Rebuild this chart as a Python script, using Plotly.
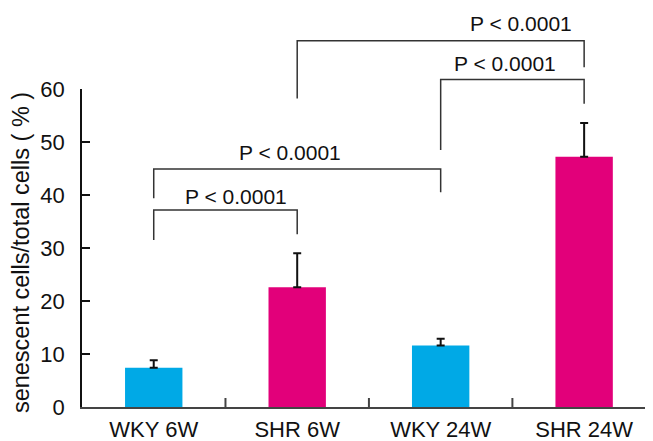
import plotly.graph_objects as go

categories = ["WKY 6W", "SHR 6W", "WKY 24W", "SHR 24W"]
values = [7.4, 22.6, 11.6, 47.2]
errors = [1.4, 6.4, 1.3, 6.4]
bar_colors = ["#00A9E6", "#E2007A", "#00A9E6", "#E2007A"]
y_ticks = [0, 10, 20, 30, 40, 50, 60]

# significance brackets
bracket_left = [0, 0, 1, 2]
bracket_right = [1, 2, 3, 3]
bracket_top = [37.15, 44.9, 69.1, 61.8]
bracket_left_end = [31.5, 39.4, 58.2, 48.5]
bracket_right_end = [32.6, 40.5, 64.1, 57.2]
bracket_labels = ["P < 0.0001", "P < 0.0001", "P < 0.0001", "P < 0.0001"]
label_x = [0.57, 0.95, 2.56, 2.45]
label_y = [39.7, 48.1, 72.3, 64.9]

Y_MAX = 60.0
FONT = "Liberation Sans, Arial, sans-serif"

fig = go.Figure()
fig.add_trace(go.Bar(
    x=list(range(len(categories))), y=values,
    marker=dict(color=bar_colors, line=dict(width=0)),
    width=0.4,
    error_y=dict(type="data", symmetric=False, array=errors,
                 arrayminus=[0] * len(errors),
                 color="#111111", thickness=2, width=4),
))

def py(v):
    return v / Y_MAX

shapes = []
annotations = []
for i in range(len(bracket_left)):
    l, r = bracket_left[i], bracket_right[i]
    pts = (f"M {l} {py(bracket_left_end[i])} L {l} {py(bracket_top[i])} "
           f"L {r} {py(bracket_top[i])} L {r} {py(bracket_right_end[i])}")
    shapes.append(dict(type="path", xref="x", yref="paper", path=pts,
                       line=dict(color="#333333", width=1.5)))
    annotations.append(dict(x=label_x[i], y=py(label_y[i]), xref="x", yref="paper",
                            text=bracket_labels[i], showarrow=False,
                            xanchor="center", yanchor="middle",
                            font=dict(family=FONT, size=21, color="#111111")))

annotations.append(dict(x=-0.1068, y=0.484, xref="paper", yref="paper",
                        text="senescent cells/total cells ( % )", textangle=-90,
                        showarrow=False, xanchor="center", yanchor="middle",
                        font=dict(family=FONT, size=23.5, color="#111111")))

# boundary tick marks on x axis (between categories)
for b in [0.5, 1.5, 2.5]:
    shapes.append(dict(type="line", xref="x", yref="paper", x0=b, x1=b, y0=0, y1=9 / 318,
                       line=dict(color="#444444", width=2)))

fig.update_layout(
    width=645, height=441,
    margin=dict(l=74, r=0, t=81, b=42, autoexpand=False),
    paper_bgcolor="white", plot_bgcolor="white",
    showlegend=False,
    shapes=shapes, annotations=annotations,
    font=dict(family=FONT, size=21, color="#111111"),
    xaxis=dict(range=[-0.5, 3.48], tickmode="array",
               tickvals=list(range(len(categories))), ticktext=categories,
               showgrid=False, zeroline=False, automargin=False,
               showline=True, linecolor="#444444", linewidth=2,
               ticks="", ticklabelstandoff=2,
               tickfont=dict(family=FONT, size=22, color="#111111")),
    yaxis=dict(range=[0, Y_MAX], tickvals=y_ticks,
               showgrid=False, zeroline=False, automargin=False,
               showline=True, linecolor="#111111", linewidth=1.5,
               ticks="inside", ticklen=8, tickwidth=1.5, tickcolor="#111111",
               ticklabelstandoff=11,
               tickfont=dict(family=FONT, size=22, color="#111111")),
)

fig.write_html("out.html")
